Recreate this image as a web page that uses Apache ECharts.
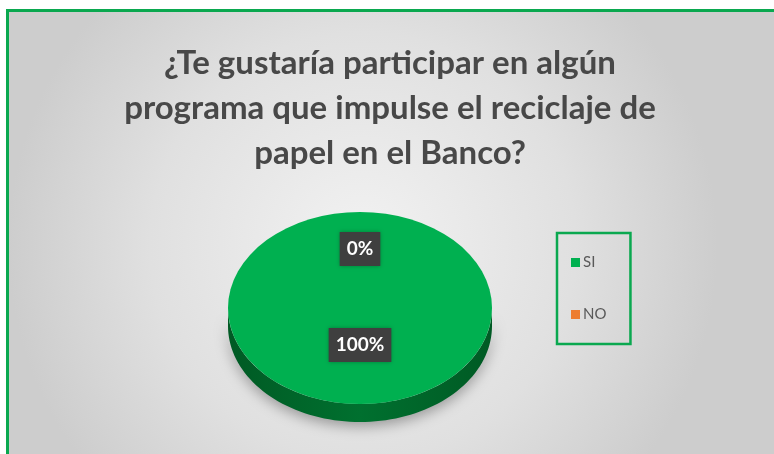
<!DOCTYPE html>
<html><head><meta charset="utf-8">
<script src="https://cdn.jsdelivr.net/npm/echarts@6/dist/echarts.min.js"></script>
<style>html,body{margin:0;padding:0;background:#fff}#c{width:774px;height:454px}</style>
</head><body><div id="c"></div>
<script>
const titleText = '¿Te gustaría participar en algún\nprograma que impulse el reciclaje de\npapel en el Banco?';
const categories = ['SI', 'NO'];
const values = [100, 0];
const colors = ['#00b050', '#ed7d31'];
const sideColors = ['#00702f', '#b65a1c'];

const chart = echarts.init(document.getElementById('c'), null, {renderer: 'canvas'});
const total = values.reduce((a, b) => a + b, 0);

function makeRender(idx) {
  return function (params, api) {
    const cx = 360, cy = 308, rx = 132, ry = 96, depth = 18;
    let before = 0;
    for (let i = 0; i < idx; i++) before += values[i];
    const v = api.value(0);
    const s = -Math.PI / 2 + before / total * Math.PI * 2;
    const e = s + v / total * Math.PI * 2;
    const children = [];
    const ranges = [[0, Math.PI], [2 * Math.PI, 3 * Math.PI], [-2 * Math.PI, -Math.PI]];
    ranges.forEach(function (r) {
      const a0 = Math.max(s, r[0]), a1 = Math.min(e, r[1]);
      if (a1 > a0) {
        const pts = [];
        const n = 80;
        for (let k = 0; k <= n; k++) {
          const a = a0 + (a1 - a0) * k / n;
          pts.push([cx + rx * Math.cos(a), cy + ry * Math.sin(a)]);
        }
        for (let k = n; k >= 0; k--) {
          const a = a0 + (a1 - a0) * k / n;
          pts.push([cx + rx * Math.cos(a), cy + depth + ry * Math.sin(a)]);
        }
        children.push({
          type: 'polygon', shape: {points: pts},
          style: {
            fill: new echarts.graphic.LinearGradient(0, 0, 1, 0, [
              {offset: 0, color: idx === 0 ? '#005a24' : '#8a4213'},
              {offset: 0.5, color: sideColors[idx]},
              {offset: 1, color: idx === 0 ? '#005a24' : '#8a4213'}
            ]),
            shadowBlur: 14, shadowColor: 'rgba(0,0,0,0.35)', shadowOffsetY: 4
          }
        });
      }
    });
    if (e > s) {
      children.push({
        type: 'sector', x: cx, y: cy, scaleY: ry / rx,
        shape: {cx: 0, cy: 0, r: rx, r0: 0, startAngle: s, endAngle: e, clockwise: true},
        style: {fill: colors[idx]}
      });
    }
    const mid = (s + e) / 2;
    const lx = cx + Math.cos(mid) * ry * 0.5;
    const ly = cy - 11 + Math.sin(mid) * ry * 0.5;
    children.push({
      type: 'text', x: lx, y: ly, z2: 10,
      style: {
        text: Math.round(v / total * 100) + '%',
        fill: '#ffffff', font: 'bold 19px Lato, sans-serif',
        align: 'center', verticalAlign: 'middle',
        backgroundColor: '#3f3f3f', padding: [8, 7, 7, 7],
        shadowBlur: 4, shadowColor: 'rgba(0,0,0,0.3)'
      }
    });
    return {type: 'group', children: children};
  };
}

const option = {
  backgroundColor: '#ffffff',
  animation: false,
  graphic: [{
    type: 'rect', z: -10, silent: true,
    shape: {x: 7.5, y: 10.5, width: 790, height: 470},
    style: {
      fill: new echarts.graphic.RadialGradient(0.45, 0.5, 0.75, [
        {offset: 0, color: '#f2f2f2'},
        {offset: 0.6, color: '#e0e0e0'},
        {offset: 1, color: '#cdcdcd'}
      ]),
      stroke: '#0aa84f', lineWidth: 3
    }
  }],
  title: {
    text: titleText, left: 385, top: 36, textAlign: 'center',
    textStyle: {fontFamily: 'Lato, sans-serif', fontWeight: 'bold', fontSize: 33, lineHeight: 45, color: '#484848'}
  },
  legend: {
    orient: 'vertical', left: 557, top: 233,
    data: categories,
    icon: 'rect', itemWidth: 9, itemHeight: 9, itemGap: 37,
    padding: [22, 24, 22, 14],
    borderColor: '#0aa84f', borderWidth: 2.5,
    textStyle: {fontFamily: 'Lato, sans-serif', fontSize: 15, color: '#595959', padding: [0, 0, 0, -2]}
  },
  series: categories.map(function (name, i) {
    return {
      type: 'custom', name: name, coordinateSystem: 'none',
      itemStyle: {color: colors[i]},
      renderItem: makeRender(i),
      data: [[values[i]]]
    };
  })
};
chart.setOption(option);
</script></body></html>
